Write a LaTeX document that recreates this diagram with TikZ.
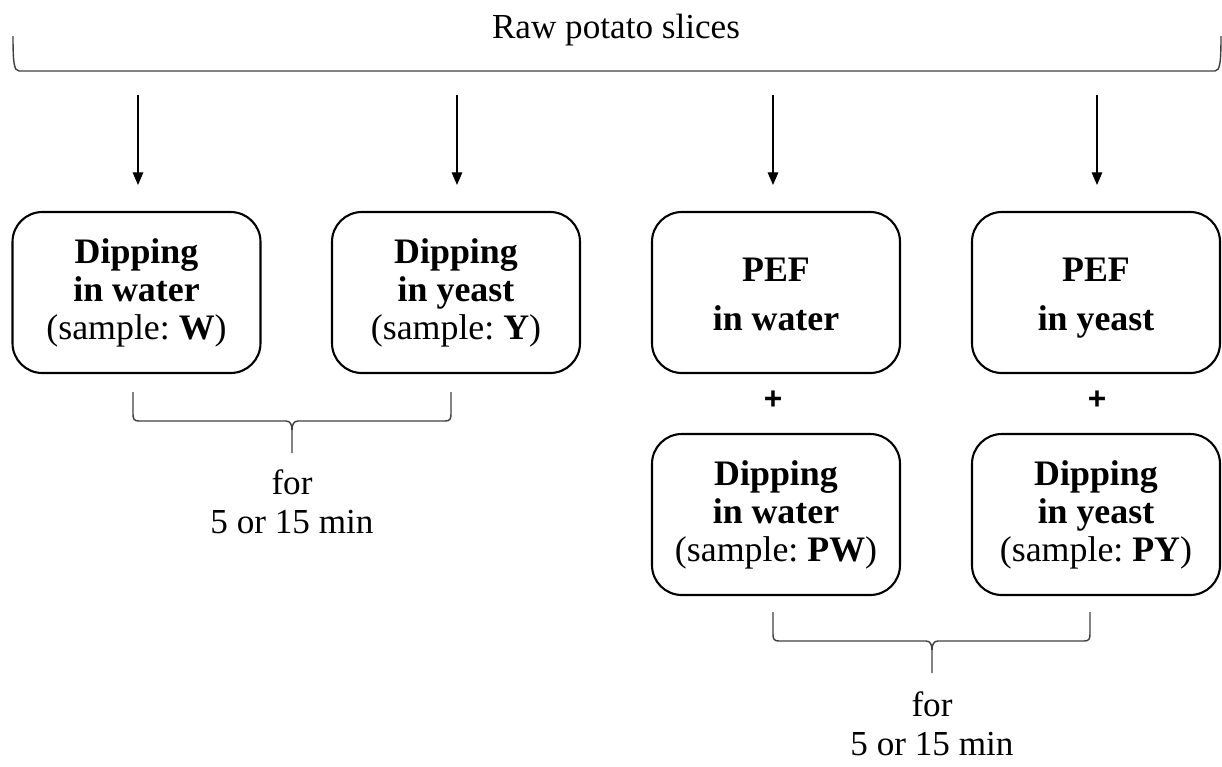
\documentclass[tikz,border=0pt]{standalone}
\usepackage{fontspec}
\setmainfont{Liberation Serif}
\newfontfamily\plusfont{Liberation Sans}
\usetikzlibrary{arrows.meta}
\frenchspacing

\begin{document}
\begin{tikzpicture}[x=0.1mm,y=-0.1mm,
    box/.style={draw,line width=0.6pt,rounded corners=8.5pt,minimum width=24.8mm,minimum height=16.1mm,
      align=center,inner sep=0pt,font=\fontsize{10.2}{10.8}\selectfont},
    arrow/.style={-{Triangle[width=3pt,length=3.6pt]},line width=0.35pt},
    bracket/.style={draw=black!75,line width=0.4pt},
    label/.style={align=center,font=\fontsize{10}{11}\selectfont}]
  \useasboundingbox (0,0) rectangle (1222,766);

  % Title and top bracket
  \node[label] (raw) at (616,30) {Raw potato slices};
  \draw[bracket] (13,36) .. controls (13,62) and (14,71) .. (19,71) -- (1215,71)
    .. controls (1220,71) and (1221,62) .. (1221,36);

  % Define points for the arrows
  \coordinate (a1) at (138,95);  \coordinate (b1) at (138,185);
  \coordinate (a2) at (457,95);  \coordinate (b2) at (457,185);
  \coordinate (a3) at (773,95);  \coordinate (b3) at (773,185);
  \coordinate (a4) at (1097,95); \coordinate (b4) at (1097,185);

  \draw[arrow] (a1) -- (b1);
  \draw[arrow] (a2) -- (b2);
  \draw[arrow] (a3) -- (b3);
  \draw[arrow] (a4) -- (b4);

  % Treatment boxes
  \node[box] (w) at (136.5,292.5) {\textbf{Dipping}\\\textbf{in water}\\(sample: \textbf{W})};
  \node[box] (y) at (456,292.5) {\textbf{Dipping}\\\textbf{in yeast}\\(sample: \textbf{Y})};
  \node[box] (pefw) at (776,292.5) {\rule{0pt}{11pt}\textbf{PEF}\\[3.3pt]\textbf{in water}\strut};
  \node[box] (pefy) at (1096,292.5) {\rule{0pt}{11pt}\textbf{PEF}\\[3.3pt]\textbf{in yeast}\strut};
  \node[box] (pw) at (776,514.5) {\textbf{Dipping}\\\textbf{in water}\\(sample: \textbf{PW})};
  \node[box] (py) at (1096,514.5) {\textbf{Dipping}\\\textbf{in yeast}\\(sample: \textbf{PY})};

  % Plus signs
  \node[font=\plusfont\bfseries\fontsize{9}{9}\selectfont] (plusw) at (773,400) {+};
  \node[font=\plusfont\bfseries\fontsize{9}{9}\selectfont] (plusy) at (1097,400) {+};

  % Lower brackets
  \draw[bracket] (133,392) -- (133,414) .. controls (133,419) and (134,421) .. (139,421) -- (286,421)
    .. controls (290,421) and (292,424) .. (292,430) -- (292,453);
  \draw[bracket] (292,430) .. controls (292,424) and (294,421) .. (298,421) -- (445,421)
    .. controls (450,421) and (451,419) .. (451,414) -- (451,392);
  \draw[bracket] (773,612) -- (773,634) .. controls (773,639) and (774,641) .. (779,641) -- (926,641)
    .. controls (930,641) and (932,644) .. (932,650) -- (932,673);
  \draw[bracket] (932,650) .. controls (932,644) and (934,641) .. (938,641) -- (1084,641)
    .. controls (1089,641) and (1090,639) .. (1090,634) -- (1090,612);

  \node[label] (time1) at (292,502) {for\\5 or 15 min};
  \node[label] (time2) at (932,724) {for\\5 or 15 min};
\end{tikzpicture}
\end{document}
